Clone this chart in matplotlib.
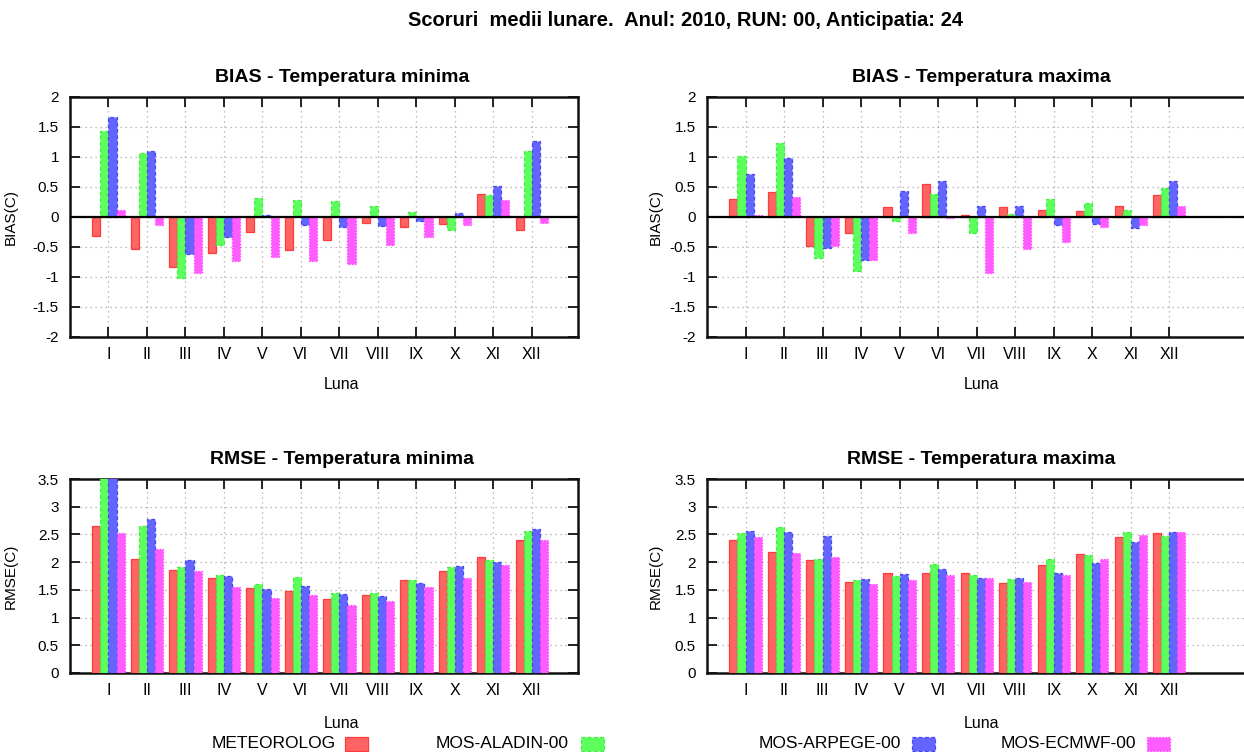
import matplotlib
matplotlib.use("Agg")
import matplotlib.pyplot as plt
import numpy as np
from matplotlib.patches import Rectangle
from matplotlib.ticker import FuncFormatter

plt.rcParams["font.family"] = ["Liberation Sans", "DejaVu Sans"]

months = ["I", "II", "III", "IV", "V", "VI", "VII", "VIII", "IX", "X", "XI", "XII"]
series_names = ["METEOROLOG", "MOS-ALADIN-00", "MOS-ARPEGE-00", "MOS-ECMWF-00"]

# BIAS - Temperatura minima
bias_min_meteo = [-0.32, -0.53, -0.84, -0.60, -0.25, -0.55, -0.39, -0.10, -0.17, -0.12, 0.39, -0.22]
bias_min_aladin = [1.43, 1.06, -1.02, -0.47, 0.32, 0.28, 0.26, 0.19, 0.08, -0.22, 0.37, 1.10]
bias_min_arpege = [1.66, 1.10, -0.62, -0.34, 0.03, -0.14, -0.17, -0.15, -0.07, 0.06, 0.51, 1.26]
bias_min_ecmwf = [0.12, -0.14, -0.94, -0.74, -0.66, -0.74, -0.78, -0.46, -0.33, -0.14, 0.28, -0.10]

# BIAS - Temperatura maxima
bias_max_meteo = [0.30, 0.41, -0.49, -0.26, 0.17, 0.55, 0.03, 0.17, 0.12, 0.10, 0.19, 0.37]
bias_max_aladin = [1.02, 1.23, -0.69, -0.90, -0.06, 0.39, -0.26, 0.05, 0.30, 0.23, 0.12, 0.48]
bias_max_arpege = [0.72, 0.98, -0.52, -0.71, 0.44, 0.60, 0.19, 0.19, -0.13, -0.12, -0.18, 0.60]
bias_max_ecmwf = [0.03, 0.34, -0.48, -0.72, -0.27, -0.02, -0.94, -0.53, -0.42, -0.16, -0.13, 0.19]

# RMSE - Temperatura minima (ALADIN and ARPEGE in January go past the top of the axis)
rmse_min_meteo = [2.66, 2.06, 1.86, 1.71, 1.53, 1.48, 1.33, 1.41, 1.67, 1.84, 2.09, 2.40]
rmse_min_aladin = [3.60, 2.66, 1.91, 1.77, 1.60, 1.74, 1.45, 1.45, 1.67, 1.91, 2.04, 2.56]
rmse_min_arpege = [3.70, 2.78, 2.04, 1.75, 1.51, 1.57, 1.43, 1.39, 1.63, 1.93, 2.00, 2.60]
rmse_min_ecmwf = [2.52, 2.24, 1.84, 1.55, 1.36, 1.41, 1.23, 1.29, 1.56, 1.72, 1.94, 2.40]

# RMSE - Temperatura maxima
rmse_max_meteo = [2.40, 2.18, 2.04, 1.65, 1.81, 1.81, 1.80, 1.62, 1.94, 2.15, 2.45, 2.52]
rmse_max_aladin = [2.52, 2.64, 2.06, 1.67, 1.75, 1.96, 1.77, 1.69, 2.06, 2.13, 2.55, 2.48]
rmse_max_arpege = [2.57, 2.54, 2.48, 1.69, 1.78, 1.87, 1.72, 1.72, 1.81, 1.99, 2.36, 2.54]
rmse_max_ecmwf = [2.45, 2.16, 2.09, 1.60, 1.67, 1.77, 1.72, 1.64, 1.76, 2.06, 2.49, 2.55]

fill_colors = ["#ff6464", "#5cff5c", "#6464ff", "#ff5cff"]
edge_colors = ["#ff3c3c", "#40f040", "#4848f0", "#ff40ff"]
edge_styles = ["-", (0, (3, 2)), (0, (3, 2)), (0, (1, 1.5))]

W, H = 1244, 752


def px_axes(fig, left, top, right, bottom):
    return fig.add_axes([left / W, 1 - bottom / H, (right - left) / W, (bottom - top) / H])


def draw_panel(ax, series, title, ylabel, ylim, xmax, ylabel_x, title_x, xlabel_y):
    x = np.arange(1, len(months) + 1)
    bw = 0.21
    for i, vals in enumerate(series):
        ax.bar(
            x + (i - 1.5) * bw,
            vals,
            width=bw,
            color=fill_colors[i],
            edgecolor=edge_colors[i],
            linestyle=edge_styles[i],
            linewidth=0.9,
            zorder=3,
        )
    if ylim[0] < 0:
        ax.axhline(0, color="black", lw=1.6, zorder=4)
    ax.set_xlim(0, xmax)
    ax.set_ylim(*ylim)
    ax.set_xticks(x)
    ax.set_xticklabels(months)
    ax.set_yticks(np.arange(ylim[0], ylim[1] + 0.01, 0.5))
    ax.yaxis.set_major_formatter(FuncFormatter(lambda v, _: f"{v:g}"))
    ax.tick_params(direction="in", top=True, right=True, length=7.5, width=1.4, color="#222")
    ax.tick_params(axis="x", labelsize=11.5, pad=7)
    ax.tick_params(axis="y", labelsize=11, pad=8)
    ax.grid(True, color="#a8a8a8", linestyle=(0, (1, 3)), linewidth=0.9, zorder=0)
    ax.set_axisbelow(True)
    for sp in ax.spines.values():
        sp.set_linewidth(1.8)
        sp.set_color("#111")
    ax.set_title(title, fontsize=14, fontweight="bold", pad=11, x=title_x)
    ax.set_ylabel(ylabel, fontsize=11)
    ax.yaxis.set_label_coords(ylabel_x, 0.5)
    ax.set_xlabel("Luna", fontsize=11.5)
    ax.xaxis.set_label_coords(title_x, xlabel_y)


fig = plt.figure(figsize=(W / 100, H / 100), dpi=100)

ax_bmin = px_axes(fig, 70, 97, 578, 337)
ax_bmax = px_axes(fig, 707, 97, 1256, 337)
ax_rmin = px_axes(fig, 70, 479, 578, 673)
ax_rmax = px_axes(fig, 707, 479, 1256, 673)

draw_panel(ax_bmin, [bias_min_meteo, bias_min_aladin, bias_min_arpege, bias_min_ecmwf],
           "BIAS - Temperatura minima", "BIAS(C)", (-2, 2), 13.2, -0.102, 0.535, -0.165)
draw_panel(ax_bmax, [bias_max_meteo, bias_max_aladin, bias_max_arpege, bias_max_ecmwf],
           "BIAS - Temperatura maxima", "BIAS(C)", (-2, 2), 14.25, -0.08, 0.5, -0.165)
draw_panel(ax_rmin, [rmse_min_meteo, rmse_min_aladin, rmse_min_arpege, rmse_min_ecmwf],
           "RMSE - Temperatura minima", "RMSE(C)", (0, 3.5), 13.2, -0.102, 0.535, -0.22)
draw_panel(ax_rmax, [rmse_max_meteo, rmse_max_aladin, rmse_max_arpege, rmse_max_ecmwf],
           "RMSE - Temperatura maxima", "RMSE(C)", (0, 3.5), 14.25, -0.08, 0.5, -0.22)

fig.text(686 / W, 1 - 20 / H, "Scoruri  medii lunare.  Anul: 2010, RUN: 00, Anticipatia: 24",
         ha="center", va="center", fontsize=14.5, fontweight="bold")

# legend row along the bottom: label, then a small swatch
legend_text_right = [336, 569, 901, 1136]
legend_box_left = [345, 581, 912, 1147]
for i, name in enumerate(series_names):
    fig.text(legend_text_right[i] / W, 1 - 744 / H, name, ha="right", va="center", fontsize=12.5)
    fig.patches.append(Rectangle(
        (legend_box_left[i] / W, 1 - 751 / H), 23 / W, 14 / H,
        transform=fig.transFigure, facecolor=fill_colors[i], edgecolor=edge_colors[i],
        linestyle=edge_styles[i], linewidth=0.9,
    ))

fig.savefig("out.png", dpi=100)
